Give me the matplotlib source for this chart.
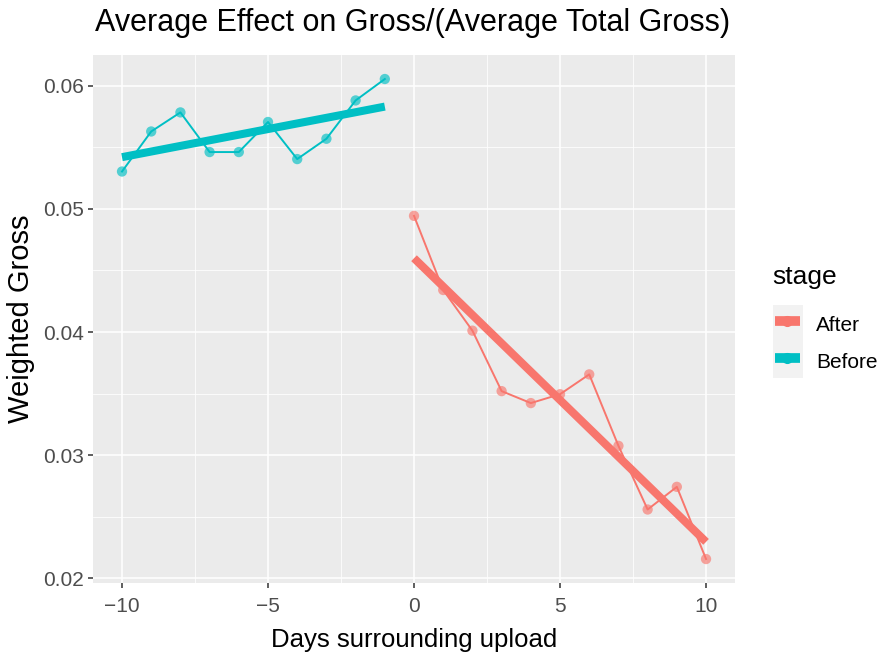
import numpy as np
import matplotlib
matplotlib.use("Agg")
import matplotlib.pyplot as plt
from matplotlib.lines import Line2D
from matplotlib.patches import Rectangle
from matplotlib.ticker import MultipleLocator

plt.rcParams['font.family'] = ['Liberation Sans', 'DejaVu Sans']

before_days = [-10, -9, -8, -7, -6, -5, -4, -3, -2, -1]
before_vals = [0.05303, 0.05628, 0.05783, 0.05461, 0.05461, 0.05705, 0.05404, 0.05569, 0.05880, 0.06054]
after_days = [0, 1, 2, 3, 4, 5, 6, 7, 8, 9, 10]
after_vals = [0.04943, 0.04341, 0.04011, 0.03520, 0.03423, 0.03495, 0.03656, 0.03076, 0.02559, 0.02743, 0.02157]
stage_labels = ['After', 'Before']

c_after = '#F8766D'
c_before = '#00BFC4'

W, H = 878, 662
fig = plt.figure(figsize=(W / 100, H / 100), dpi=100)
ax = fig.add_axes([0.1057, 0.1193, 0.7317, 0.7976])
ax.set_facecolor('#EBEBEB')
for s in ax.spines.values():
    s.set_visible(False)

ax.xaxis.set_major_locator(MultipleLocator(5))
ax.xaxis.set_minor_locator(MultipleLocator(2.5))
ax.yaxis.set_major_locator(MultipleLocator(0.01))
ax.yaxis.set_minor_locator(MultipleLocator(0.005))
ax.grid(which='major', color='white', linewidth=1.1)
ax.grid(which='minor', color='white', linewidth=0.55)
ax.set_axisbelow(True)

for xs, ys, col in [(after_days, after_vals, c_after), (before_days, before_vals, c_before)]:
    xs = np.array(xs); ys = np.array(ys)
    ax.plot(xs, ys, color=col, linewidth=1.4, zorder=3)
    ax.scatter(xs, ys, s=55, color=col, alpha=0.65, edgecolors='none', zorder=4)
    k, b = np.polyfit(xs, ys, 1)
    ax.plot(xs[[0, -1]], k * xs[[0, -1]] + b, color=col, linewidth=5.8,
            solid_capstyle='butt', zorder=5)

allv = before_vals + after_vals
alld = before_days + after_days
xr = max(alld) - min(alld); yr = max(allv) - min(allv)
ax.set_xlim(min(alld) - 0.05 * xr, max(alld) + 0.05 * xr)
ax.set_ylim(min(allv) - 0.05 * yr, max(allv) + 0.05 * yr)

ax.set_xticks([-10, -5, 0, 5, 10])
ax.set_xticklabels(['\u221210', '\u22125', '0', '5', '10'])
ax.set_yticks([0.02, 0.03, 0.04, 0.05, 0.06])
ax.set_yticklabels(['0.02', '0.03', '0.04', '0.05', '0.06'])
ax.tick_params(which='major', length=3.4, width=1.1, color='#333333', labelcolor='#4D4D4D',
               labelsize=15)
ax.tick_params(axis='x', which='major', pad=6.5)
ax.tick_params(axis='y', which='major', pad=3)
ax.tick_params(which='minor', length=0)

ax.set_xlabel('Days surrounding upload', fontsize=18.5, color='black', labelpad=9)
ax.set_ylabel('Weighted Gross', fontsize=21, color='black', labelpad=6)
ax.set_title('Average Effect on Gross/(Average Total Gross)', fontsize=22, loc='left',
             x=0.003, pad=17)

# legend
fig.patches.append(Rectangle((773 / W, 1 - 378 / H), 30 / W, 73 / H,
                             transform=fig.transFigure, facecolor='#F2F2F2',
                             edgecolor='none', zorder=0))
fig.text(772 / W, 1 - 277 / H, 'stage', fontsize=19, ha='left', va='center')
handles = [Line2D([0], [0], color=c_after, linewidth=7, marker='o', markersize=7,
                  solid_capstyle='butt'),
           Line2D([0], [0], color=c_before, linewidth=7, marker='o', markersize=7,
                  solid_capstyle='butt')]
leg = fig.legend(handles, stage_labels, loc='upper left',
                 bbox_to_anchor=(775 / W, 1 - 311 / H), frameon=False, fontsize=15,
                 handlelength=1.2, handleheight=1.6, handletextpad=0.77,
                 labelspacing=0.48, borderpad=0, borderaxespad=0)

fig.savefig('out.png', dpi=100)
